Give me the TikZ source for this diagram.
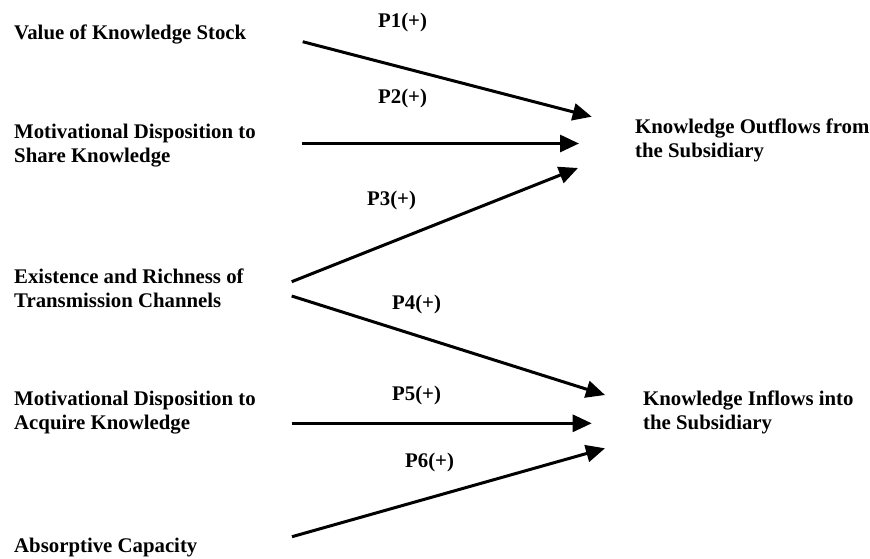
\documentclass[tikz,border=0pt]{standalone}
\usepackage{fontspec}
\setmainfont{Liberation Serif}
\usetikzlibrary{arrows.meta}
\begin{document}
\begin{tikzpicture}[x=1pt,y=-1pt,
  lbl/.style={anchor=base west,inner sep=0pt,font=\fontsize{20.8}{24}\selectfont\bfseries},
  plbl/.style={anchor=base west,inner sep=0pt,font=\fontsize{20.8}{24}\selectfont\bfseries},
  link/.style={line width=3pt,-{Triangle[length=19pt,width=17pt]}}]
\useasboundingbox (0,0) rectangle (870,558);
% left labels
\node[lbl] (vks) at (14,39) {Value of Knowledge Stock};
\node[lbl] (mds) at (14,138) {\begin{tabular}[t]{@{}l@{}}Motivational Disposition to\\Share Knowledge\end{tabular}};
\node[lbl] (erc) at (14,283) {\begin{tabular}[t]{@{}l@{}}Existence and Richness of\\Transmission Channels\end{tabular}};
\node[lbl] (mda) at (14,405) {\begin{tabular}[t]{@{}l@{}}Motivational Disposition to\\Acquire Knowledge\end{tabular}};
\node[lbl] (abs) at (14,552) {Absorptive Capacity};
% right labels
\node[lbl] (out) at (635,133) {\begin{tabular}[t]{@{}l@{}}Knowledge Outflows from\\the Subsidiary\end{tabular}};
\node[lbl] (inf) at (643,405) {\begin{tabular}[t]{@{}l@{}}Knowledge Inflows into\\the Subsidiary\end{tabular}};
% connector ends
\coordinate (s1) at (302.7,41.7);  \coordinate (e1) at (591.7,116.7);
\coordinate (s2) at (302,143.5);   \coordinate (e2) at (579,143.5);
\coordinate (s3) at (291.7,281.7); \coordinate (e3) at (578,168);
\coordinate (s4) at (291.7,296);   \coordinate (e4) at (605,395);
\coordinate (s5) at (291.7,423.3); \coordinate (e5) at (591.7,423.3);
\coordinate (s6) at (292,536.7);   \coordinate (e6) at (605,448.3);
\draw[link] (s1) -- (e1);
\draw[link] (s2) -- (e2);
\draw[link] (s3) -- (e3);
\draw[link] (s4) -- (e4);
\draw[link] (s5) -- (e5);
\draw[link] (s6) -- (e6);
% proposition labels
\node[plbl] (p1) at (378,27) {P1(+)};
\node[plbl] (p2) at (378,103) {P2(+)};
\node[plbl] (p3) at (367,205) {P3(+)};
\node[plbl] (p4) at (392,309) {P4(+)};
\node[plbl] (p5) at (392,400) {P5(+)};
\node[plbl] (p6) at (405,467) {P6(+)};
\end{tikzpicture}
\end{document}
